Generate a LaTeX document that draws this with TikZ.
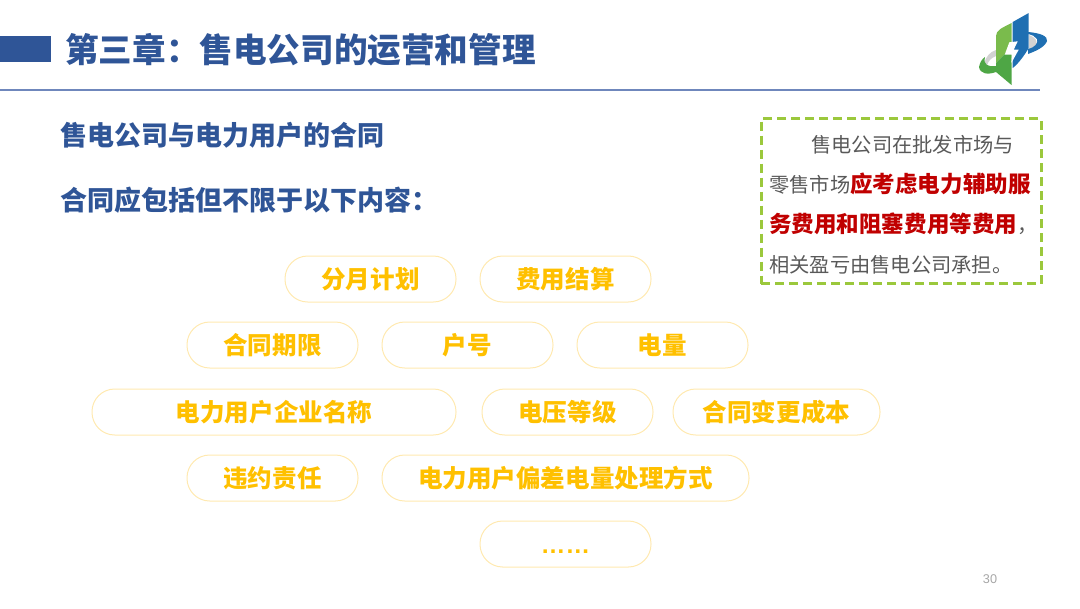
\documentclass[tikz,border=0pt]{standalone}
\usepackage{fontspec}
\setmainfont{Noto Sans CJK SC}
\setsansfont{Liberation Sans}
\usepackage{xcolor}
\usetikzlibrary{positioning}
\definecolor{titleblue}{HTML}{2F5597}
\definecolor{ruleblue}{HTML}{6F87BC}
\definecolor{pillgold}{HTML}{FFC000}
\definecolor{pillline}{HTML}{FFE9B0}
\definecolor{boxgreen}{HTML}{9BC83C}
\definecolor{boxred}{HTML}{C00000}
\definecolor{boxgray}{HTML}{595959}
\definecolor{logogreen}{HTML}{7ABB4C}
\definecolor{logodark}{HTML}{4EA645}
\definecolor{logoblue}{HTML}{1F6FB2}
\tikzset{
  pill/.style={draw=pillline, line width=0.75pt, rounded corners=17pt, minimum height=34.5pt, inner sep=0pt, text=pillgold, font=\fontsize{18.4}{22}\selectfont\bfseries},
  heading/.style={anchor=west, inner sep=0pt, text=titleblue, font=\fontsize{20.25}{24}\selectfont\bfseries},
}
\begin{document}
\begin{tikzpicture}[x=0.75pt, y=-0.75pt]
  \useasboundingbox (0,0) rectangle (1080,608);
  % header
  \fill[titleblue] (0,36) rectangle (51,62);
  \node[anchor=west, inner sep=0pt, text=titleblue, font=\fontsize{25.2}{30}\selectfont\bfseries] (title) at (65,49.5) {第三章：售电公司的运营和管理};
  \coordinate (ruleleft) at (0,90);
  \coordinate (ruleright) at (1040,90);
  \draw[ruleblue, line width=1.5pt] (ruleleft) -- (ruleright);
  % logo
  \fill[gray!35] (984,64) .. controls (986,56) and (990,52) .. (996,50) -- (996,56) .. controls (991,58) and (988,61) .. (987,66) -- cycle;
  \fill[gray!35] (1029,35) .. controls (1035,37) and (1038,41) .. (1036,45) .. controls (1034,47) and (1032,48) .. (1029,49) -- cycle;
  \fill[logodark] (979,67) .. controls (980,62) and (982,59) .. (985,57) .. controls (983,65) and (988,67) .. (996,66) -- (996,72) .. controls (988,75) and (980,74) .. cycle;
  \fill[logoblue] (1028,32) .. controls (1040,33) and (1048,36) .. (1047,41) .. controls (1045,47) and (1036,51) .. (1028,54) -- (1028,49) .. controls (1034,48) and (1039,43) .. (1037,39) .. controls (1035,36) and (1032,35) .. (1028,34) -- cycle;
  \fill[logogreen] (996,36) .. controls (996,30) and (1002,28) .. (1011.5,23) -- (1011.5,47) -- (996,63) -- cycle;
  \fill[logodark] (996,63) -- (1011.5,47) -- (1011.5,85) -- (996,72) -- cycle;
  \fill[logoblue] (1012.7,22) -- (1028.7,13) -- (1028.7,48) .. controls (1024,56) and (1018,64) .. (1012.7,68) -- cycle;
  \fill[white] (1009.3,42.3) -- (1017.7,41.3) -- (1013.7,49.7) -- (1018.7,49.7) -- (1011.3,63) -- (1012,54.7) -- (1004.7,54.7) -- cycle;
  % headings
  \node[heading] (sub) at (60,135) {售电公司与电力用户的合同};
  \node[heading] (lead) at (60,200) {合同应包括但不限于以下内容：};
  % note box
  \node[draw=boxgreen, line width=2.25pt, dash pattern=on 6.75pt off 3.75pt, outer sep=0pt, minimum width=210pt, minimum height=123.75pt, inner sep=0pt, anchor=north west] (note) at (761,118.5) {};
  \node[anchor=north west, inner sep=0pt, text=boxgray, text width=205pt, align=left, font=\fontsize{15.2}{30}\selectfont] (notetext) at (769,135.5) {%
    \hspace*{2.07em}售电公司在批发市场与\\
    零售市场{\fontsize{16.9}{30}\selectfont\bfseries\color{boxred}应考虑电力辅助服}\\
    {\fontsize{16.9}{30}\selectfont\bfseries\color{boxred}务费用和阻塞费用等费用}，\\
    相关盈亏由售电公司承担。};
  % contract items
  \foreach \nm/\cx/\cy/\pw/\txt in {
    plan/370.5/279/171/分月计划,
    settle/565.5/279/171/费用结算,
    term/272.5/345/171/合同期限,
    account/467.5/345/171/户号,
    volume/662.5/345/171/电量,
    company/274/412/364/电力用户企业名称,
    voltage/567.5/412/171/电压等级,
    change/776.5/412/207/合同变更成本,
    breach/272.5/478/171/违约责任,
    deviation/565.5/478/367/电力用户偏差电量处理方式,
    more/565.5/544/171/{\vphantom{分}\sffamily ……}}
  {
    \node[pill, minimum width=\pw*0.75pt] (\nm) at (\cx,\cy) {\txt};
  }
  % page number
  \node[text=gray!70, inner sep=0pt, font=\fontsize{9.5}{11}\selectfont\sffamily] (page) at (990,579) {30};
\end{tikzpicture}
\end{document}
